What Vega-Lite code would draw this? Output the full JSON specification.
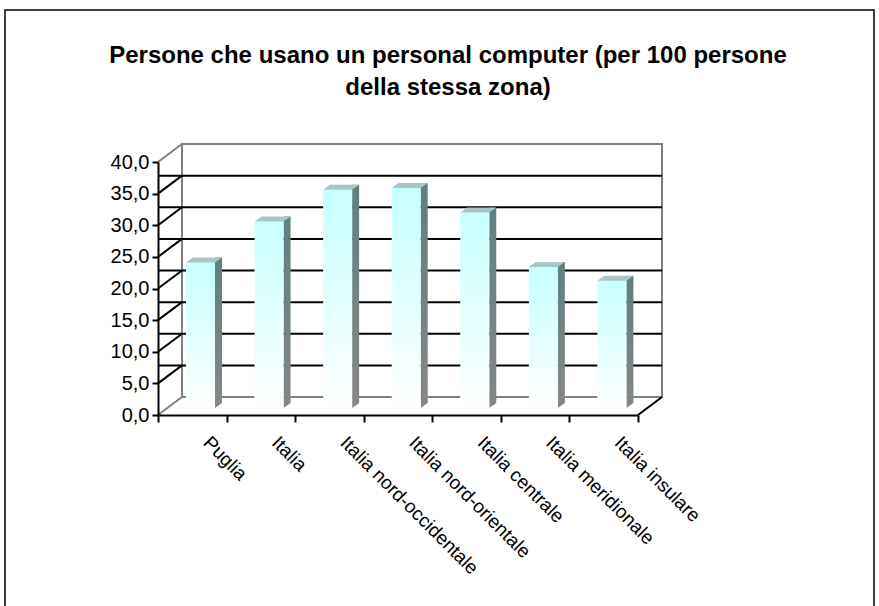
{
  "$schema": "https://vega.github.io/schema/vega-lite/v6.json",
  "width": 480,
  "height": 253,
  "autosize": "none",
  "padding": {"left": 158, "top": 162, "right": 241, "bottom": 191},
  "background": "white",
  "config": {
    "view": {"stroke": null},
    "font": "Liberation Sans",
    "axisY": {
      "labelFont": "Liberation Sans",
      "labelFontSize": 20,
      "labelColor": "#000000",
      "labelPadding": 3,
      "tickSize": 6,
      "tickColor": "#000000",
      "tickWidth": 2,
      "domainColor": "#000000",
      "domainWidth": 2,
      "grid": false
    }
  },
  "title": {
    "text": ["Persone che usano un personal computer (per 100 persone", "della stessa zona)"],
    "font": "Liberation Sans",
    "fontSize": 24,
    "fontWeight": "bold",
    "color": "#000000",
    "anchor": "middle",
    "frame": "group",
    "baseline": "top",
    "lineHeight": 32,
    "dx": 50,
    "offset": 0,
    "dy": 91
  },
  "datasets": {
    "griglia": [
      {"v": 0}, {"v": 5}, {"v": 10}, {"v": 15}, {"v": 20},
      {"v": 25}, {"v": 30}, {"v": 35}, {"v": 40}
    ],
    "zone": [
      {"zona": "Puglia", "valore": 23.0},
      {"zona": "Italia", "valore": 29.5},
      {"zona": "Italia nord-occidentale", "valore": 34.5},
      {"zona": "Italia nord-orientale", "valore": 34.8},
      {"zona": "Italia centrale", "valore": 30.9},
      {"zona": "Italia meridionale", "valore": 22.3},
      {"zona": "Italia insulare", "valore": 20.1}
    ]
  },
  "layer": [
    {
      "data": {"values": [{}]},
      "mark": {"type": "rect", "fill": "white", "stroke": "#000000", "strokeWidth": 1.5,
               "xOffset": -153, "x2Offset": 236, "yOffset": -152, "y2Offset": 205},
      "encoding": {
        "x": {"datum": 0, "type": "quantitative", "scale": {"domain": [0, 1]}, "axis": null},
        "x2": {"datum": 1},
        "y": {"datum": 40, "type": "quantitative", "title": null,
              "axis": {"zindex": 1, "values": [0, 5, 10, 15, 20, 25, 30, 35, 40], "labelExpr": "replace(format(datum.value, '.1f'), '.', ',')"}},
        "y2": {"datum": 0}
      }
    },
    {
      "data": {"values": [{}]},
      "mark": {"type": "rect", "fill": "white", "stroke": "#808080", "strokeWidth": 2,
               "xOffset": 24, "x2Offset": 24, "yOffset": -18, "y2Offset": -18},
      "encoding": {
        "x": {"datum": 0, "type": "quantitative", "scale": {"domain": [0, 1]}, "axis": null},
        "x2": {"datum": 1},
        "y": {"datum": 40, "type": "quantitative", "title": null,
              "axis": {"zindex": 1, "values": [0, 5, 10, 15, 20, 25, 30, 35, 40], "labelExpr": "replace(format(datum.value, '.1f'), '.', ',')"}},
        "y2": {"datum": 0}
      }
    },
    {
      "data": {"name": "griglia"},
      "transform": [{"filter": "datum.v > 0 && datum.v < 40"}],
      "mark": {"type": "rule", "color": "#000000", "strokeWidth": 2,
               "xOffset": 24, "x2Offset": 24, "yOffset": -18},
      "encoding": {
        "y": {"field": "v", "type": "quantitative", "title": null,
              "axis": {"zindex": 1, "values": [0, 5, 10, 15, 20, 25, 30, 35, 40], "labelExpr": "replace(format(datum.value, '.1f'), '.', ',')"}}
      }
    },
    {
      "data": {"name": "griglia"},
      "mark": {"type": "rule", "strokeWidth": 2, "x2Offset": 24, "y2Offset": -18},
      "encoding": {
        "x": {"datum": 0, "type": "quantitative", "scale": {"domain": [0, 1]}, "axis": null},
        "x2": {"datum": 0},
        "y": {"field": "v", "type": "quantitative", "title": null,
              "axis": {"zindex": 1, "values": [0, 5, 10, 15, 20, 25, 30, 35, 40], "labelExpr": "replace(format(datum.value, '.1f'), '.', ',')"}},
        "y2": {"field": "v"},
        "color": {
          "condition": {"test": "datum.v == 0 || datum.v == 40", "value": "#808080"},
          "value": "#000000"
        }
      }
    },
    {
      "data": {"values": [{}]},
      "mark": {"type": "rule", "strokeWidth": 2, "color": "#000000", "x2Offset": 24, "y2Offset": -18},
      "encoding": {
        "x": {"datum": 1, "type": "quantitative", "scale": {"domain": [0, 1]}, "axis": null},
        "x2": {"datum": 1},
        "y": {"datum": 0, "type": "quantitative", "title": null,
              "axis": {"zindex": 1, "values": [0, 5, 10, 15, 20, 25, 30, 35, 40], "labelExpr": "replace(format(datum.value, '.1f'), '.', ',')"}},
        "y2": {"datum": 0}
      }
    },
    {
      "data": {"name": "zone"},
      "encoding": {
        "x": {
          "field": "zona", "type": "nominal", "sort": null,
          "scale": {"type": "band", "paddingInner": 0, "paddingOuter": 0},
          "axis": {
            "title": null,
            "labelAngle": 45,
            "labelAlign": "left",
            "labelBaseline": "top",
            "labelFont": "Liberation Sans",
            "labelFontSize": 19,
            "labelColor": "#000000",
            "labelLimit": 400,
            "labelOffset": 20,
            "labelPadding": 11,
            "tickBand": "extent",
            "tickSize": 7,
            "tickColor": "#000000",
            "tickWidth": 2,
            "domainColor": "#000000",
            "domainWidth": 2,
            "grid": false,
            "zindex": 1
          }
        },
        "y": {
          "field": "valore", "type": "quantitative", "title": null,
          "scale": {"domain": [0, 40], "nice": false, "zero": true},
          "axis": {"zindex": 1, "values": [0, 5, 10, 15, 20, 25, 30, 35, 40], "labelExpr": "replace(format(datum.value, '.1f'), '.', ',')"}
        }
      },
      "layer": [
        {
          "mark": {
            "type": "bar", "width": 7, "xOffset": 26.2, "yOffset": -12, "y2Offset": -12,
            "color": {
              "gradient": "linear", "x1": 0, "y1": 0, "x2": 0, "y2": 1,
              "stops": [{"offset": 0, "color": "#5f8080"}, {"offset": 1, "color": "#868686"}]
            }
          }
        },
        {
          "mark": {
            "type": "point", "filled": true, "opacity": 1, "strokeWidth": 0,
            "shape": "M-1,-0.714L1,-0.714L-1,0.714Z", "size": 49,
            "xOffset": 26.2, "yOffset": -9.5, "color": "#868686"
          },
          "encoding": {"y": {"datum": 0, "type": "quantitative", "title": null,
              "axis": {"zindex": 1, "values": [0, 5, 10, 15, 20, 25, 30, 35, 40], "labelExpr": "replace(format(datum.value, '.1f'), '.', ',')"}}}
        },
        {
          "mark": {
            "type": "bar", "width": {"band": 0.423}, "xOffset": 8.2, "yOffset": -7, "y2Offset": -7,
            "color": {
              "gradient": "linear", "x1": 0, "y1": 0, "x2": 0, "y2": 1,
              "stops": [{"offset": 0, "color": "#c8ffff"}, {"offset": 1, "color": "#ffffff"}]
            }
          }
        },
        {
          "mark": {
            "type": "point", "filled": true, "opacity": 1, "strokeWidth": 0,
            "shape": "M-1,0.139L0.611,0.139L1,-0.139L-0.611,-0.139Z", "size": 1296,
            "xOffset": 11.7, "yOffset": -9.5, "color": "#a9c6c6"
          }
        }
      ]
    }
  ],
  "resolve": {"scale": {"x": "independent"}}
}
